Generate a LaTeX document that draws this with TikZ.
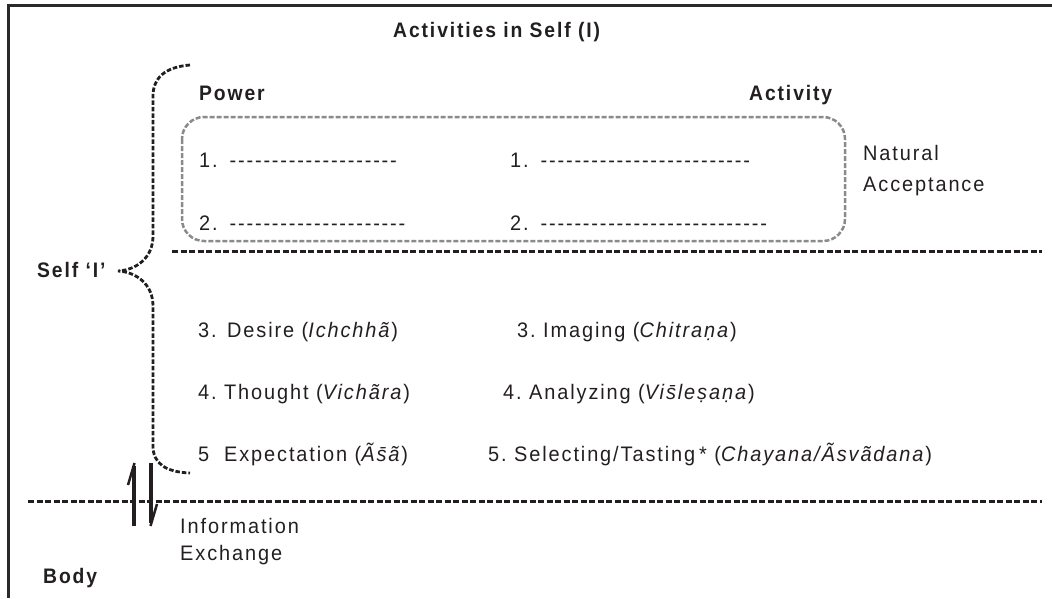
\documentclass[tikz,border=0pt]{standalone}
\usepackage{fontspec}
\setmainfont{Liberation Sans}[LetterSpace=9, FakeStretch=0.95,
  BoldFeatures={FakeStretch=0.92}, BoldItalicFeatures={FakeStretch=0.92}]
\definecolor{txt}{HTML}{231F20}
\definecolor{boxgray}{HTML}{8A8A8A}
\definecolor{framec}{HTML}{2A2A2A}
\newcommand\dashrow[1]{\foreach \k in {1,...,#1}{\mbox{-}\kern1.8pt}}
\tikzset{
  every node/.style={font=\fontsize{21}{25}\selectfont, inner sep=0pt, text=txt, anchor=base west},
  boldtxt/.style={font=\fontsize{21}{25}\selectfont\bfseries},
  framestyle/.style={draw=framec, line width=3pt},
  blackdash/.style={draw=txt, line width=3pt, dash pattern=on 6pt off 2.5pt},
  bracestyle/.style={draw=txt, line width=2.8pt, dash pattern=on 4.5pt off 2pt},
  graybox/.style={draw=boxgray, line width=2.5pt, dash pattern=on 5pt off 2pt, rounded corners=22pt},
  shaft/.style={draw=txt, line width=4pt},
  barb/.style={draw=txt, line width=2.5pt}
}
\begin{document}
\begin{tikzpicture}[x=1pt,y=-1pt]
\useasboundingbox (0,0) rectangle (1052,598);
% frame
\draw[framestyle] (1052,5) -- (8,5) -- (8,598);
% headings
\node[boldtxt] (title) at (393,37) {Activities in Self (I)};
\node[boldtxt] (power) at (199,100) {Power};
\node[boldtxt] (activity) at (749,100) {Activity};
% natural acceptance box
\draw[graybox] (182,117) rectangle (845,241);
\node (p1) at (199,167) {1.\hspace{12pt}\dashrow{20}};
\node (p2) at (199,230) {2.\hspace{12pt}\dashrow{21}};
\node (a1) at (510,167) {1.\hspace{12pt}\dashrow{25}};
\node (a2) at (510,230) {2.\hspace{12pt}\dashrow{27}};
\node (nat1) at (863,160) {Natural};
\node (nat2) at (863,191) {Acceptance};
% separator lines
\draw[blackdash] (172,251) -- (1042,251);
\draw[blackdash] (28,501) -- (1042,501);
% self brace
\node[boldtxt] (self) at (37,277) {Self ‘I’};
\coordinate (btop) at (190,65);
\coordinate (btip) at (118,271);
\coordinate (bbot) at (190,473);
\draw[bracestyle] (btop) .. controls (165,67) and (153,78) .. (153,96) -- (153,236)
  .. controls (153,258) and (136,270) .. (btip)
  .. controls (136,272) and (153,284) .. (153,306) -- (153,446)
  .. controls (153,463) and (165,472) .. (bbot);
% lower activities
\node (d3) at (198,337) {3.\ \kern3pt Desire (\textit{Ichchhã})};
\node (d4) at (198,399) {4.\ Thought (\textit{Vichãra})};
\node (d5) at (198,461) {5\ \ Expectation (\textit{Ãs̄ã})};
\node (i3) at (517,337) {3.\ Imaging (\textit{Chitraṇa})};
\node (i4) at (503,399) {4.\ Analyzing (\textit{Vis̄leṣaṇa})};
\node (i5) at (488,461) {5.\ Selecting/Tasting\kern4pt*\ (\textit{Chayana/Ãsvãdana})};
% information exchange arrows
\draw[shaft] (134,526) -- (134,466);
\draw[barb] (134.5,463) -- (128,485);
\draw[shaft] (151,463) -- (151,523);
\draw[barb] (150.5,526) -- (157,504);
\node (info1) at (180,533) {Information};
\node (info2) at (180,560) {Exchange};
\node[boldtxt] (body) at (43,583) {Body};
\end{tikzpicture}
\end{document}
